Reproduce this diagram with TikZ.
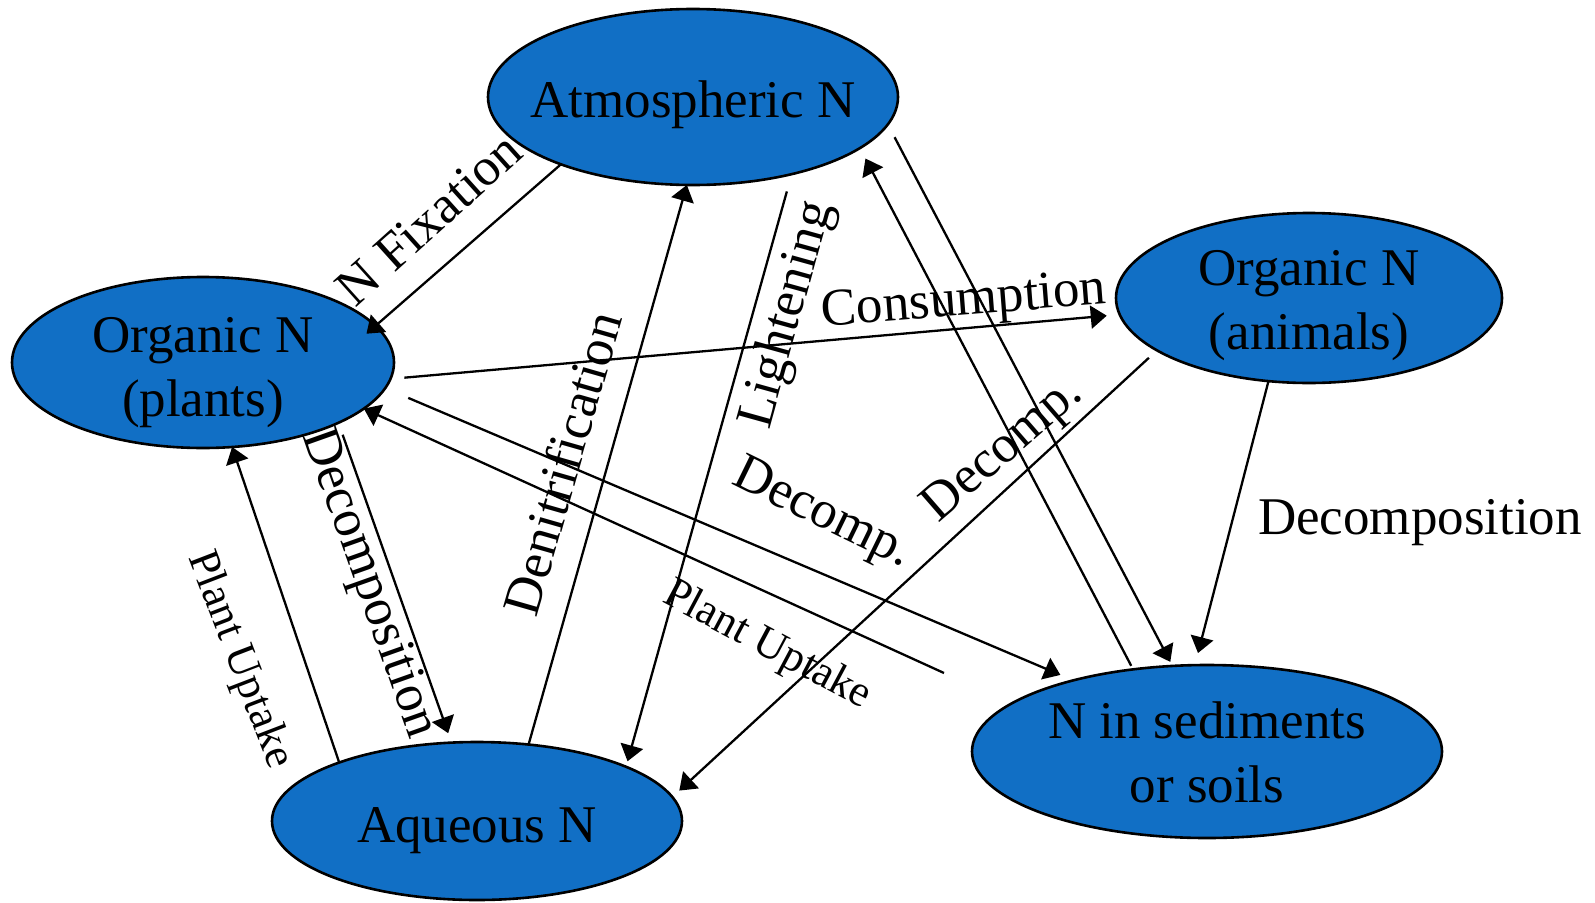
\documentclass[tikz,border=0pt]{standalone}
\usepackage{fontspec}
\setmainfont{Liberation Serif}
\usetikzlibrary{shapes.geometric,arrows.meta}
\definecolor{nblue}{RGB}{17,111,197}
\newcommand\oneline[1]{\hbox to 0pt{\hss#1\hss}}
\newcommand\twolines[2]{\vtop{\hbox to 0pt{\hss#1\hss}\hbox to 0pt{\hss#2\hss}}}
\begin{document}
\begin{tikzpicture}[x=1pt,y=-1pt,
  pool/.style={ellipse,draw=black,line width=2.6pt,fill=nblue,inner sep=0pt,outer sep=0pt,font=\fontsize{53}{64}\selectfont},
  lab/.style={inner sep=0pt,font=\fontsize{53}{64}\selectfont},
  smalllab/.style={inner sep=0pt,font=\fontsize{44}{53}\selectfont},
  flow/.style={line width=2.3pt,-{Triangle[length=16pt,width=23pt]}}]
\useasboundingbox (0,0) rectangle (1595,902);
\fill[white] (0,0) rectangle (1595,902);

\node[pool,minimum width=410pt,minimum height=176pt,text height=40pt,text depth=0pt] (atm) at (693,97) {\oneline{Atmospheric N}};
\node[pool,minimum width=382pt,minimum height=171pt,text height=0pt,text depth=21pt] (plants) at (203,362.5) {\twolines{Organic N}{(plants)}};
\node[pool,minimum width=386pt,minimum height=170pt,text height=0pt,text depth=26pt] (animals) at (1309,298) {\twolines{Organic N}{(animals)}};
\node[pool,minimum width=410pt,minimum height=158pt,text height=42pt,text depth=0pt] (aq) at (477,821) {\oneline{Aqueous N}};
\node[pool,minimum width=470pt,minimum height=173pt,text height=0pt,text depth=27pt] (sed) at (1207,751.5) {\twolines{N in sediments}{or soils}};

\coordinate (puTail) at (944,673);

\draw[flow,shorten >=-12pt] (atm.207.4) -- (plants.12);
\draw[flow,shorten <=14pt,shorten >=13pt] (plants.-5) -- (animals.185);
\draw[flow,shorten <=25pt,shorten >=14pt] (plants.-8) -- (sed.152);
\draw[flow] (puTail) -- (plants.-16.6);
\draw[flow,shorten <=12.7pt,shorten >=10pt] (plants.-24.2) -- (aq.108);
\draw[flow] (aq.157.7) -- (plants.-71.5);
\draw[flow] (aq.56.3) -- (atm.266.2);
\draw[flow,shorten <=18pt,shorten >=5.7pt] (atm.-38.7) -- (aq.20.2);
\draw[flow,shorten <=11pt,shorten >=9.5pt] (animals.199.1) -- (aq.7.5);
\draw[flow,shorten <=14.5pt,shorten >=4.6pt] (atm.-8.3) -- (sed.112.8);
\draw[flow,shorten <=4pt,shorten >=11.8pt] (sed.132.9) -- (atm.-17.7);
\draw[flow,shorten >=12.5pt] (animals.244.6) -- (sed.98.7);

\node[lab,rotate=42] (lNFix) at (429,219) {N Fixation};
\node[lab,rotate=4.5] (lCons) at (964,303) {Consumption};
\node[lab,rotate=74.5] (lLight) at (788,315) {Lightening};
\node[lab,rotate=74] (lDenit) at (562,463) {Denitrification};
\node[lab,rotate=-70.5] (lDecL) at (368,584) {Decomposition};
\node[smalllab,rotate=-69] (lPUL) at (239,660) {Plant Uptake};
\node[lab,rotate=-26] (lDecM) at (822,515) {Decomp.};
\node[smalllab,rotate=-28] (lPUM) at (767,646) {Plant Uptake};
\node[lab,rotate=41] (lDecR) at (1004,451) {Decomp.};
\node[lab] (lDecomp) at (1420,523) {Decomposition};
\end{tikzpicture}
\end{document}
